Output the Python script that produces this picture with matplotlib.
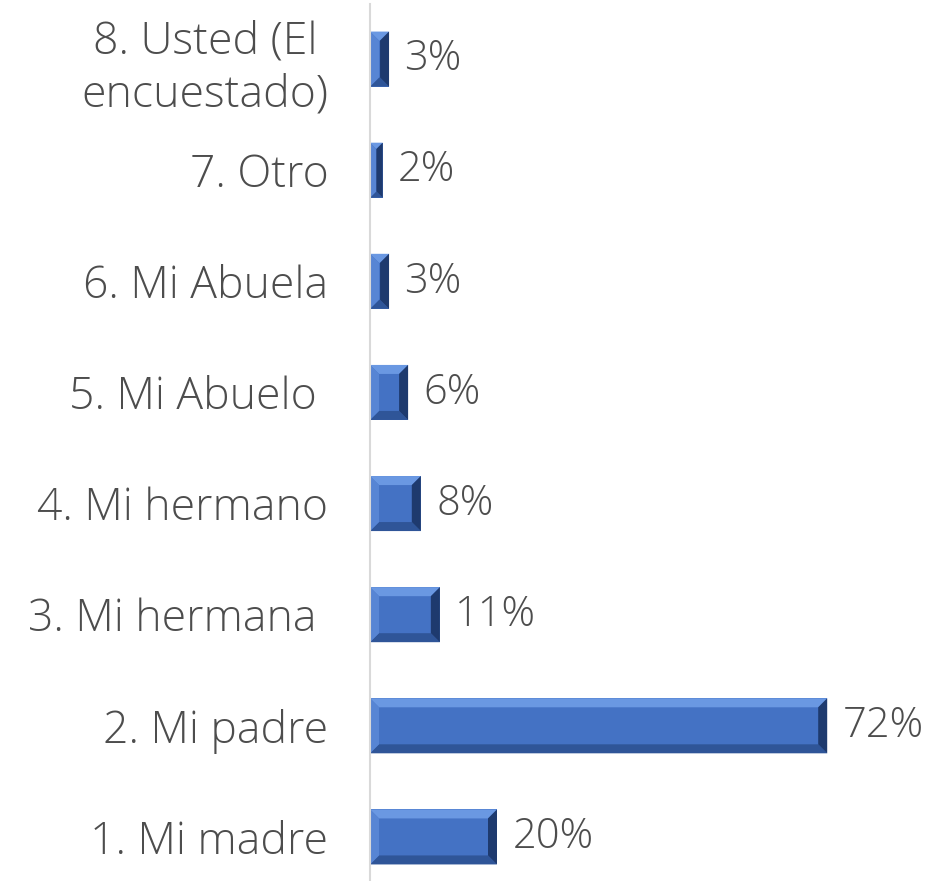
import matplotlib
matplotlib.use("Agg")
import matplotlib.pyplot as plt
from matplotlib.patches import Polygon
import numpy as np

categories = ["1. Mi madre", "2. Mi padre", "3. Mi hermana ", "4. Mi hermano",
              "5. Mi Abuelo ", "6. Mi Abuela", "7. Otro", "8. Usted (El\nencuestado)"]
values = [20, 72, 11, 8, 6, 3, 2, 3]
value_labels = ["20%", "72%", "11%", "8%", "6%", "3%", "2%", "3%"]

W, H, DPI = 930, 881, 100
fig = plt.figure(figsize=(W / DPI, H / DPI), dpi=DPI)
ax_left = 370 / W
ax_w = (80 * 6.35) / W
ax_top = 3.5
ax_bot = 892.5
ax = fig.add_axes([ax_left, (H - ax_bot) / H, ax_w, (ax_bot - ax_top) / H])

font = "Open Sans"
fw = "light"
fs = 32
text_color = "#4d4d4d"
base = "#4472C4"

y = np.arange(len(categories))
bars = ax.barh(y, values, height=0.495, color=base, edgecolor="none", zorder=2)
ax.set_xlim(0, 80)
ax.set_ylim(-0.5, len(categories) - 0.5)

for s in ["top", "right", "bottom"]:
    ax.spines[s].set_visible(False)
ax.spines["left"].set_color("#d9d9d9")
ax.spines["left"].set_linewidth(1.5)
ax.spines["left"].set_zorder(3)
ax.set_xticks([])
ax.set_yticks(y)
ax.set_yticklabels(categories, fontsize=fs, color=text_color, family=font,
                   fontweight=fw, multialignment="center", linespacing=1.25)
ax.tick_params(axis="y", length=0, pad=30)

fig.canvas.draw()
inv = ax.transData.inverted()
cols = {"top": "#6a98e2", "left": "#5785d4", "bottom": "#2f5598", "right": "#1e3a6e"}
for b in bars:
    x0d, y0d = b.get_x(), b.get_y()
    x1d, y1d = x0d + b.get_width(), y0d + b.get_height()
    (x0, y0), (x1, y1) = ax.transData.transform([(x0d, y0d), (x1d, y1d)])
    bw = min(9, (x1 - x0) / 2, (y1 - y0) / 2)
    polys = {
        "top": [(x0, y1), (x1, y1), (x1 - bw, y1 - bw), (x0 + bw, y1 - bw)],
        "bottom": [(x0, y0), (x1, y0), (x1 - bw, y0 + bw), (x0 + bw, y0 + bw)],
        "left": [(x0, y0), (x0, y1), (x0 + bw, y1 - bw), (x0 + bw, y0 + bw)],
        "right": [(x1, y0), (x1, y1), (x1 - bw, y1 - bw), (x1 - bw, y0 + bw)],
    }
    for k, pts in polys.items():
        dpts = inv.transform(pts)
        ax.add_patch(Polygon(dpts, closed=True, facecolor=cols[k], edgecolor="none", zorder=2.5))

for yi, v, lab in zip(y, values, value_labels):
    ax.annotate(lab, (v, yi), xytext=(11, 0), textcoords="offset points",
                va="center", ha="left", fontsize=30, color=text_color,
                family=font, fontweight=fw)

fig.savefig("out.png", dpi=DPI)
